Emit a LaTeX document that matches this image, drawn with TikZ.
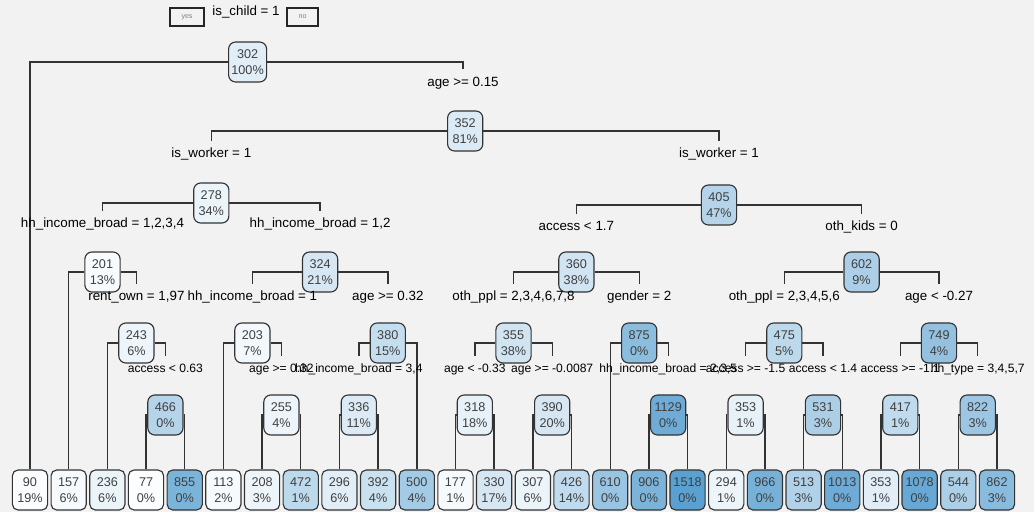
\documentclass[tikz,border=0pt]{standalone}
\usepackage{fontspec}
\setmainfont{Liberation Sans}
\usetikzlibrary{backgrounds}
\definecolor{rpblue}{HTML}{5AA0D0}
\definecolor{panel}{HTML}{F2F2F2}
\tikzset{
  % boxes
  split/.style={draw=black!80,line width=0.8pt,rounded corners=5pt,align=center,
    minimum width=0.88cm,minimum height=1cm,inner xsep=2pt,inner ysep=1pt,
    font=\fontsize{9}{11.4}\selectfont,text=black!75},
  leaf/.style={split,rounded corners=4pt},
  cond/.style={font=\fontsize{9.5}{10}\selectfont,inner xsep=1pt,inner ysep=5pt,
    text height=6.8pt,text depth=2pt},
  condsm/.style={cond,font=\fontsize{8.6}{9}\selectfont},
  br/.style={draw=black!80,line width=1pt},
  yn/.style={draw=black!85,line width=1.2pt,minimum height=0.45cm,
    inner sep=0pt,font=\fontsize{5}{5}\selectfont,text=black!50},
}
\begin{document}
\begin{tikzpicture}[x=0.025cm,y=-0.025cm]
  \useasboundingbox (0,0) rectangle (1034,512);
  \begin{scope}[on background layer]
    \fill[panel] (0,0) rectangle (1034,512);
  \end{scope}
  % top
  \node[yn,minimum width=0.85cm] (yesbox) at (187,17) {yes};
  \node[cond] (root) at (246,12) {is\_child = 1};
  \node[yn,minimum width=0.78cm] (nobox) at (302.5,17) {no};
  % inner nodes
  \foreach \v/\p/\f/\x/\y in {302/100/18/247.6/62, 352/81/22/465.2/131,
      278/34/12/211.3/203, 405/47/45/719.0/205,
      201/13/4/102.5/272, 324/21/25/320.1/272, 360/38/28/576.4/272, 602/9/50/861.6/272,
      243/6/10/136.4/343, 203/7/7/252.4/343, 380/15/35/387.8/343, 355/38/28/513.5/343,
      875/0/70/639.2/343, 475/5/40/784.3/343, 749/4/65/939.0/343,
      466/0/45/165.4/415, 255/4/10/281.4/415, 336/11/22/358.8/415, 318/18/15/474.8/415,
      390/20/25/552.2/415, 1129/0/88/668.2/415, 353/1/15/745.6/415, 531/3/50/823.0/415,
      417/1/38/900.3/415, 822/3/60/977.7/415}
    \node[split,fill=rpblue!\f!white] (n\v) at (\x,\y) {\v\\\p\%};
  % leaves
  \foreach \v/\p/\f [count=\i] in {90/19/3, 157/6/5, 236/6/12, 77/0/2, 855/0/80,
      113/2/5, 208/3/10, 472/1/40, 296/6/18, 392/4/32, 500/4/55, 177/1/5, 330/17/25,
      307/6/12, 426/14/38, 610/0/62, 906/0/80, 1518/0/100, 294/1/10, 966/0/82,
      513/3/48, 1013/0/88, 353/1/18, 1078/0/92, 544/0/50, 862/3/72}
    \node[leaf,fill=rpblue!\f!white] (l\i) at ({30+38.68*(\i-1)},490) {\v\\\p\%};
  % split labels
  \node[cond] (c1) at (463,83) {age >= 0.15};
  \node[cond] (c2) at (211.3,154) {is\_worker = 1};
  \node[cond] (c3) at (719.0,154) {is\_worker = 1};
  \node[cond] (c4) at (102.5,224) {hh\_income\_broad = 1,2,3,4};
  \node[cond] (c5) at (320.1,224) {hh\_income\_broad = 1,2};
  \node[cond] (c6) at (576.4,227) {access < 1.7};
  \node[cond] (c7) at (861.6,227) {oth\_kids = 0};
  \node[cond] (c8) at (136.4,297) {rent\_own = 1,97};
  \node[cond] (c9) at (252.4,297) {hh\_income\_broad = 1};
  \node[cond] (c10) at (387.8,297) {age >= 0.32};
  \node[cond] (c11) at (513.5,297) {oth\_ppl = 2,3,4,6,7,8};
  \node[cond] (c12) at (639.2,297) {gender = 2};
  \node[cond] (c13) at (784.3,297) {oth\_ppl = 2,3,4,5,6};
  \node[cond] (c14) at (939.0,297) {age < -0.27};
  \node[condsm] (c15) at (165.4,369) {access < 0.63};
  \node[condsm] (c16) at (281.4,369) {age >= 0.32};
  \node[condsm] (c17) at (358.8,369) {hh\_income\_broad = 3,4};
  \node[condsm] (c18) at (474.8,369) {age < -0.33};
  \node[condsm] (c19) at (552.2,369) {age >= -0.0087};
  \node[condsm] (c20) at (668.2,369) {hh\_income\_broad = 2,3,5};
  \node[condsm] (c21) at (745.6,369) {access >= -1.5};
  \node[condsm] (c22) at (823.0,369) {access < 1.4};
  \node[condsm] (c23) at (900.3,369) {access >= -1.1};
  \node[condsm] (c24) at (977.7,369) {hh\_type = 3,4,5,7};
  % branches
  \begin{scope}[on background layer]
    \foreach \a/\b/\c in {n302/l1/c1, n352/c2/c3, n278/c4/c5, n405/c6/c7,
        n201/l2/c8, n324/c9/c10, n360/c11/c12, n602/c13/c14,
        n243/l3/c15, n203/l6/c16, n380/c17/l11, n355/c18/c19,
        n875/l16/c20, n475/c21/c22, n749/c23/c24,
        n466/l4/l5, n255/l7/l8, n336/l9/l10, n318/l12/l13, n390/l14/l15,
        n1129/l17/l18, n353/l19/l20, n531/l21/l22, n417/l23/l24, n822/l25/l26} {
      \draw[br] (\a.west) -| (\b.north);
      \draw[br] (\a.east) -| (\c.north);
    }
  \end{scope}
\end{tikzpicture}
\end{document}
